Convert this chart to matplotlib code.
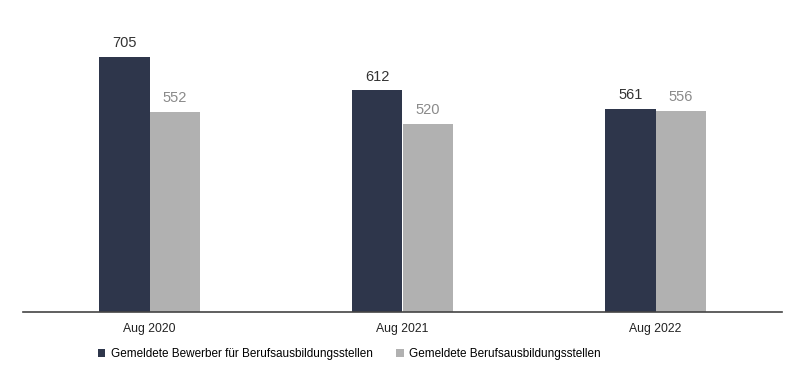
import matplotlib.pyplot as plt
import numpy as np

plt.rcParams['font.family'] = ['Liberation Sans', 'DejaVu Sans']

# data
kategorien = ['Aug 2020', 'Aug 2021', 'Aug 2022']
bewerber = [705, 612, 561]
stellen = [552, 520, 556]
serien = ['Gemeldete Bewerber für Berufsausbildungsstellen', 'Gemeldete Berufsausbildungsstellen']

dunkel = '#2e364b'
grau = '#b1b1b1'

fig = plt.figure(figsize=(7.9, 3.73), dpi=100)
ax = fig.add_axes([23/790, 61/373, (782-23)/790, 312/373])

x = np.arange(len(kategorien))
w = 0.2
b1 = ax.bar(x - w/2, bewerber, width=w, color=dunkel, label=serien[0])
b2 = ax.bar(x + w/2, stellen, width=w, color=grau, label=serien[1])

for r, v in zip(b1, bewerber):
    ax.annotate(str(v), (r.get_x() + r.get_width()/2, v), xytext=(0, 5), textcoords='offset points',
                ha='center', va='bottom', fontsize=10.5, color='#333333')
for r, v in zip(b2, stellen):
    ax.annotate(str(v), (r.get_x() + r.get_width()/2, v), xytext=(0, 5), textcoords='offset points',
                ha='center', va='bottom', fontsize=10.5, color='#8a8a8a')

ax.set_xlim(-0.5, 2.5)
ax.set_ylim(0, 862)
ax.set_xticks(x)
ax.set_xticklabels(kategorien, fontsize=8.8, color='#222222')
ax.tick_params(axis='x', length=0, pad=8)
ax.set_yticks([])
for s in ['top', 'left', 'right']:
    ax.spines[s].set_visible(False)
ax.spines['bottom'].set_color('#444444')
ax.spines['bottom'].set_linewidth(1.2)

fig.legend(handles=[b1, b2], loc='center left', bbox_to_anchor=(98/790, 19/373), ncol=2,
           frameon=False, fontsize=8.5, handlelength=0.6, handleheight=0.6,
           handletextpad=0.5, columnspacing=2.0, borderpad=0, borderaxespad=0)

fig.savefig('out.png', dpi=100)
